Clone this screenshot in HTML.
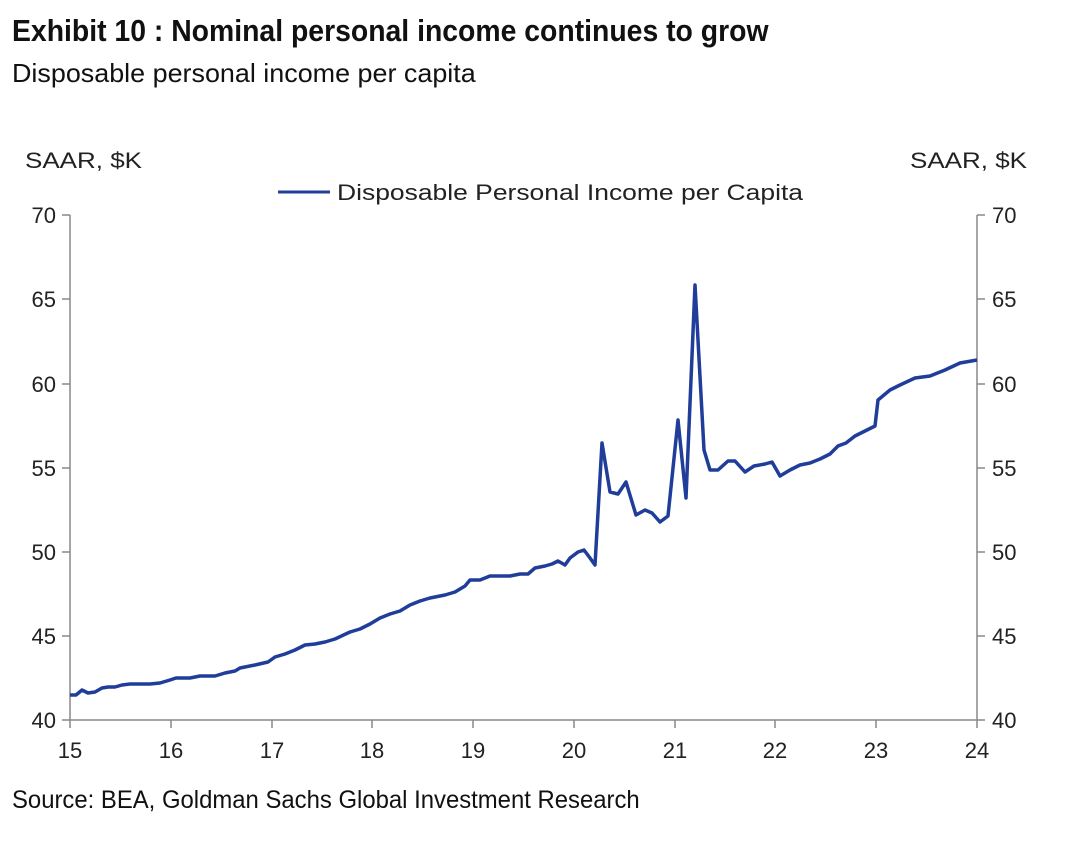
<!DOCTYPE html>
<html><head><meta charset="utf-8"><style>
body{margin:0;background:#fff;width:1084px;height:848px;overflow:hidden;font-family:"Liberation Sans",sans-serif}
.t{position:absolute;left:12px;top:13px;font-weight:bold;font-size:31px;color:#111;transform:scaleX(0.915);transform-origin:0 0;white-space:nowrap}
.s{position:absolute;left:12px;top:58px;font-size:26px;color:#111;transform:scaleX(1.035);transform-origin:0 0;white-space:nowrap}
.src{position:absolute;left:12px;top:786px;font-size:25px;color:#111;transform:scaleX(0.955);transform-origin:0 0;white-space:nowrap}
</style></head><body>
<div class="t">Exhibit 10 : Nominal personal income continues to grow</div>
<div class="s">Disposable personal income per capita</div>
<svg width="1084" height="848" style="position:absolute;left:0;top:0" font-family="Liberation Sans, sans-serif" font-size="22" fill="#222">
<text x="25" y="168" textLength="117" lengthAdjust="spacingAndGlyphs">SAAR, $K</text>
<text x="910" y="168" textLength="117" lengthAdjust="spacingAndGlyphs">SAAR, $K</text>
<line x1="278" y1="192" x2="330" y2="192" stroke="#1f3d99" stroke-width="3"/>
<text x="337" y="200" textLength="466" lengthAdjust="spacingAndGlyphs">Disposable Personal Income per Capita</text>
<g stroke="#888" stroke-width="1.5" fill="none">
<line x1="70" y1="215" x2="70" y2="720"/><line x1="977" y1="215" x2="977" y2="720"/>
<line x1="70" y1="720" x2="977" y2="720"/>
<path d="M62 215H70M62 299H70M62 384H70M62 468H70M62 552H70M62 636H70M62 720H70"/>
<path d="M977 215H985M977 299H985M977 384H985M977 468H985M977 552H985M977 636H985M977 720H985"/>
<path d="M70 720V728M171 720V728M272 720V728M372 720V728M473 720V728M574 720V728M675 720V728M775 720V728M876 720V728M977 720V728"/>
</g>
<g text-anchor="end"><text x="56" y="223">70</text><text x="56" y="307">65</text><text x="56" y="392">60</text><text x="56" y="476">55</text><text x="56" y="560">50</text><text x="56" y="644">45</text><text x="56" y="728">40</text></g>
<g><text x="992" y="223">70</text><text x="992" y="307">65</text><text x="992" y="392">60</text><text x="992" y="476">55</text><text x="992" y="560">50</text><text x="992" y="644">45</text><text x="992" y="728">40</text></g>
<g text-anchor="middle"><text x="70" y="758">15</text><text x="171" y="758">16</text><text x="272" y="758">17</text><text x="372" y="758">18</text><text x="473" y="758">19</text><text x="574" y="758">20</text><text x="675" y="758">21</text><text x="775" y="758">22</text><text x="876" y="758">23</text><text x="977" y="758">24</text></g>
<polyline fill="none" stroke="#1f3d99" stroke-width="3.5" stroke-linejoin="round" points="70,695 76,695 82,690 88,693 95,692 102,688 108,687 115,687 122,685 130,684 136,684 150,684 160,683 170,680 176,678 190,678 200,676 215,676 225,673 235,671 240,668 255,665 268,662 275,657 285,654 295,650 305,645 315,644 325,642 335,639 350,632 360,629 370,624 380,618 390,614 400,611 410,605 420,601 430,598 445,595 455,592 465,586 470,580 480,580 490,576 500,576 510,576 520,574 528,574 535,568 545,566 552,564 558,561 565,565 570,558 578,552 584,550 590,558 595,565 602,443 610,492 618,494 626,482 636,515 645,510 652,513 660,522 668,516 678,420 686,498 695,285 704,450 710,470 718,470 728,461 735,461 745,472 754,466 765,464 772,462 780,476 790,470 800,465 810,463 820,459 830,454 838,446 846,443 855,436 865,431 875,426 878,400 890,390 900,385 915,378 930,376 945,370 960,363 977,360"/>
</svg>
<div class="src">Source: BEA, Goldman Sachs Global Investment Research</div>
</body></html>
